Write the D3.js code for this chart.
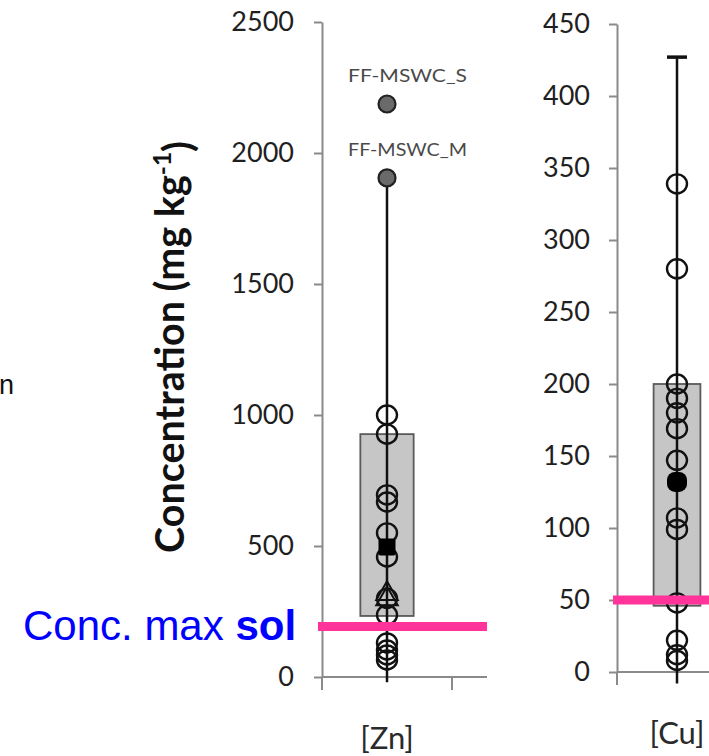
<!DOCTYPE html>
<html><head><meta charset="utf-8">
<script src="https://cdn.jsdelivr.net/npm/d3@7"></script>
<style>body{margin:0;background:#fff;} svg{display:block}</style>
</head><body><svg id="c" width="709" height="756"></svg>
<script>
// ---------- data ----------
const categories = ["[Zn]", "[Cu]"];
const znTicks = [0, 500, 1000, 1500, 2000, 2500];
const cuTicks = [0, 50, 100, 150, 200, 250, 300, 350, 400, 450];
const znPoints = [1000, 927, 695, 668, 550, 458, 300, 237, 130, 103, 84, 65];
const znTriangles = [318, 298];
const znMean = 496;
const znBox = [233, 927];
const znWhisker = [-20, 1905];
const znOutliers = [2187, 1905];
const znOutlierLabels = ["FF-MSWC_S", "FF-MSWC_M"];
const znLimit = 193;
const cuPoints = [339, 280, 200, 190, 180, 169, 147, 107, 99, 48, 22, 12, 8];
const cuMean = 132;
const cuBox = [46, 200];
const cuWhisker = [-8, 427];
const cuLimit = 50;
const limitLabel = ["Conc. max ", "sol"];
const yTitle = ["Concentration (mg kg", "-1", ")"];

// ---------- drawing ----------
const svg = d3.select("#c");
const FONT = "Lato, 'Open Sans', sans-serif";
const AX = "#8a8a8a";
const defs = svg.append("defs");

function panel(cfg) {
  const clipId = "clip" + cfg.name;
  defs.append("clipPath").attr("id", clipId).append("rect")
    .attr("x", 0).attr("y", 0).attr("width", cfg.clipRight).attr("height", 756);
  const g = svg.append("g").attr("clip-path", `url(#${clipId})`);
  const y = d3.scaleLinear().domain([0, d3.max(cfg.ticks)]).range(cfg.yRange);
  const x = d3.scaleBand().domain([cfg.cat, "_next"]).range(cfg.band);
  const cx = x(cfg.cat) + x.bandwidth() / 2;

  // x axis line + boundary ticks
  g.append("line").attr("x1", cfg.band[0]).attr("x2", cfg.band[1])
    .attr("y1", y(0)).attr("y2", y(0)).attr("stroke", AX).attr("stroke-width", 2);
  g.selectAll(".xt").data(x.domain()).join("line")
    .attr("x1", d => x(d)).attr("x2", d => x(d))
    .attr("y1", y(0)).attr("y2", y(0) + 13).attr("stroke", AX).attr("stroke-width", 2);

  // y axis
  const ya = g.append("g").attr("transform", `translate(${cfg.band[0]},0)`)
    .call(d3.axisLeft(y).tickValues(cfg.ticks).tickFormat(d3.format("d"))
      .tickSize(8).tickSizeOuter(0).tickPadding(cfg.pad));
  ya.select(".domain").attr("stroke", AX).attr("stroke-width", 2);
  ya.selectAll(".tick line").attr("stroke", AX).attr("stroke-width", 2);
  ya.selectAll(".tick text").attr("font-family", FONT).attr("font-size", 27).attr("fill", "#1f1f1f");

  // box
  const bw = x.bandwidth() * cfg.boxFrac;
  g.append("rect").attr("x", cx - bw / 2).attr("width", bw)
    .attr("y", y(cfg.box[1])).attr("height", y(cfg.box[0]) - y(cfg.box[1]))
    .attr("fill", "#c6c6c6").attr("stroke", "#5a5a5a").attr("stroke-width", 1.8);

  // whisker
  g.append("line").attr("x1", cx).attr("x2", cx)
    .attr("y1", y(cfg.whisker[1])).attr("y2", y(cfg.whisker[0]))
    .attr("stroke", "#111").attr("stroke-width", 2.5);
  if (cfg.cap) {
    g.append("line").attr("x1", cx - 10).attr("x2", cx + 10)
      .attr("y1", y(cfg.whisker[1])).attr("y2", y(cfg.whisker[1]))
      .attr("stroke", "#111").attr("stroke-width", 3.5);
  }

  // triangles
  if (cfg.triangles) {
    g.selectAll(".tri").data(cfg.triangles).join("path")
      .attr("d", d3.symbol(d3.symbolTriangle, 200))
      .attr("transform", d => `translate(${cx},${y(d)})`)
      .attr("fill", "none").attr("stroke", "#111").attr("stroke-width", 2);
  }
  // open circles
  g.selectAll(".pt").data(cfg.points).join("ellipse")
    .attr("cx", cx).attr("cy", d => y(d)).attr("rx", 10).attr("ry", 9.5)
    .attr("fill", "none").attr("stroke", "#111").attr("stroke-width", 2.4);
  // mean
  g.append("rect").attr("x", cx - cfg.meanSize / 2).attr("y", y(cfg.mean) - cfg.meanSize / 2)
    .attr("width", cfg.meanSize).attr("height", cfg.meanSize).attr("rx", cfg.meanRound)
    .attr("fill", "#000");

  // outliers
  if (cfg.outliers) {
    g.selectAll(".out").data(cfg.outliers).join("circle")
      .attr("cx", cx).attr("cy", d => y(d)).attr("r", 8.5)
      .attr("fill", "#6a6a6a").attr("stroke", "#222").attr("stroke-width", 2.2);
    g.selectAll(".outl").data(cfg.outliers).join("text")
      .attr("x", cx - 39).attr("y", d => y(d) - 22)
      .attr("font-family", FONT).attr("font-size", 17).attr("fill", "#4a4a4a")
      .attr("textLength", 119).attr("lengthAdjust", "spacingAndGlyphs")
      .text((d, i) => cfg.outlierLabels[i]);
  }

  // limit line
  g.append("line").attr("x1", cfg.band[0] - 4).attr("x2", cfg.clipRight)
    .attr("y1", y(cfg.limit)).attr("y2", y(cfg.limit))
    .attr("stroke", "#ff3399").attr("stroke-width", 9);

  // category label
  g.append("text").attr("x", cx).attr("y", y(0) + 72).attr("text-anchor", "middle")
    .attr("font-family", FONT).attr("font-size", 31).attr("fill", "#2a2a2a").text(cfg.cat);
  return y;
}

panel({name: "zn", cat: categories[0], ticks: znTicks, yRange: [677, 22],
  band: [322, 582], clipRight: 487, pad: 20, boxFrac: 0.41,
  box: znBox, whisker: znWhisker, points: znPoints, triangles: znTriangles,
  mean: znMean, meanSize: 17, meanRound: 2, outliers: znOutliers, outlierLabels: znOutlierLabels,
  limit: znLimit, cap: false});

panel({name: "cu", cat: categories[1], ticks: cuTicks, yRange: [672, 24],
  band: [617, 857], clipRight: 709, pad: 19, boxFrac: 0.39,
  box: cuBox, whisker: cuWhisker, points: cuPoints,
  mean: cuMean, meanSize: 20, meanRound: 8, limit: cuLimit, cap: true});

// y title
const t = svg.append("text").attr("transform", "translate(184,347) rotate(-90)")
  .attr("text-anchor", "middle").attr("font-family", FONT).attr("font-weight", "bold")
  .attr("font-size", 34).attr("fill", "#111");
t.append("tspan").text(yTitle[0]);
t.append("tspan").attr("dy", "-0.55em").attr("font-size", "0.62em").text(yTitle[1]);
t.append("tspan").attr("dy", "0.55em").text(yTitle[2]);
const len = t.node().getComputedTextLength();
t.attr("font-size", 34 * 412 / len);

// limit label
const lt = svg.append("text").attr("x", 23).attr("y", 640)
  .attr("font-family", "'Liberation Sans', Arial, sans-serif").attr("font-size", 42).attr("fill", "#0000ff");
lt.append("tspan").text(limitLabel[0]);
lt.append("tspan").attr("font-weight", "bold").text(limitLabel[1]);

// text fragment at left edge
svg.append("text").attr("x", -1).attr("y", 394)
  .attr("font-family", "'Liberation Sans', Arial, sans-serif").attr("font-size", 27)
  .attr("fill", "#111").text("n");
</script>
</body></html>
